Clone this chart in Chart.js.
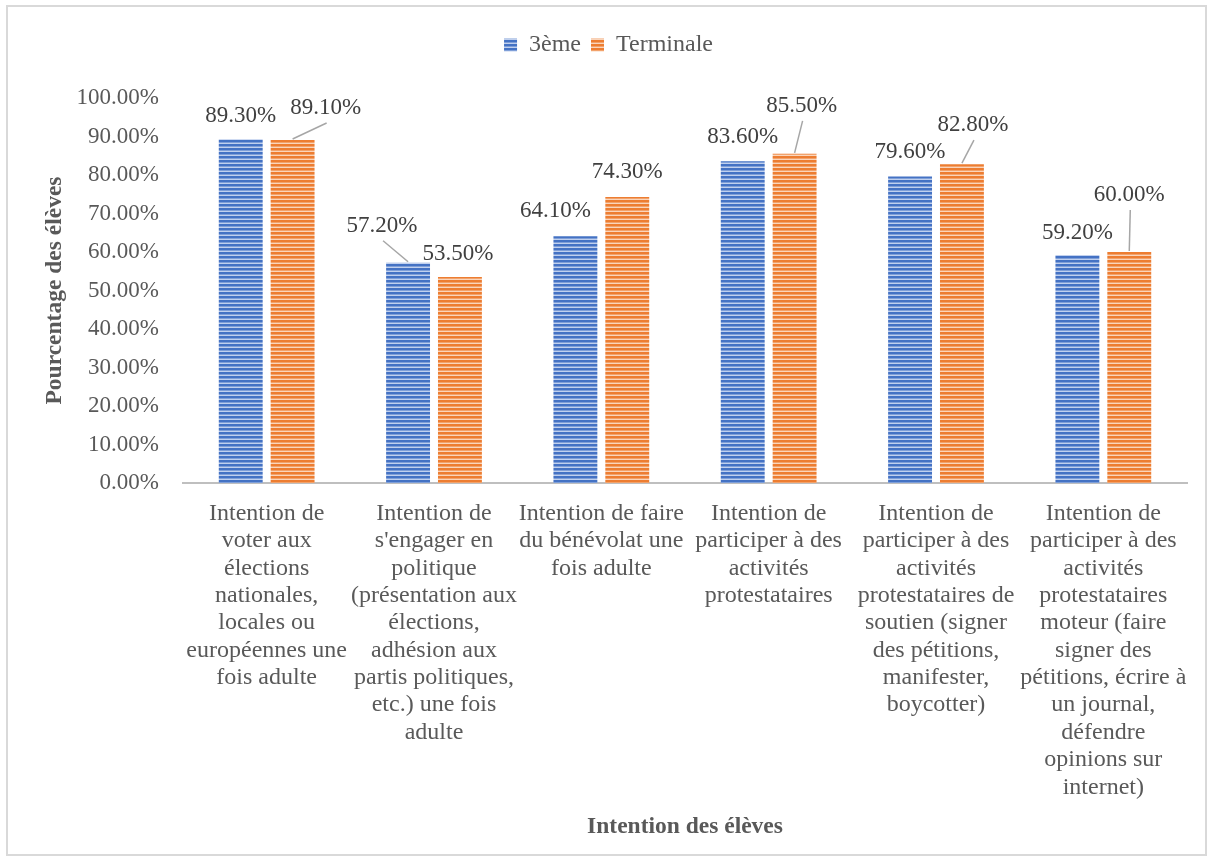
<!DOCTYPE html>
<html>
<head>
<meta charset="utf-8">
<script src="https://cdn.jsdelivr.net/npm/chart.js@4.4.1/dist/chart.umd.min.js"></script>
<style>
  html, body { margin: 0; padding: 0; background: #fff; }
  canvas { display: block; }
</style>
</head>
<body>
<canvas id="chart" width="1212" height="861"></canvas>
<script>
const categories = [
  ['Intention de', 'voter aux', 'élections', 'nationales,', 'locales ou', 'européennes une', 'fois adulte'],
  ['Intention de', "s'engager en", 'politique', '(présentation aux', 'élections,', 'adhésion aux', 'partis politiques,', 'etc.) une fois', 'adulte'],
  ['Intention de faire', 'du bénévolat une', 'fois adulte'],
  ['Intention de', 'participer à des', 'activités', 'protestataires'],
  ['Intention de', 'participer à des', 'activités', 'protestataires de', 'soutien (signer', 'des pétitions,', 'manifester,', 'boycotter)'],
  ['Intention de', 'participer à des', 'activités', 'protestataires', 'moteur (faire', 'signer des', 'pétitions, écrire à', 'un journal,', 'défendre', 'opinions sur', 'internet)'],
];
const troisieme = [89.3, 57.2, 64.1, 83.6, 79.6, 59.2];
const terminale = [89.1, 53.5, 74.3, 85.5, 82.8, 60.0];
const yTicks = [0, 10, 20, 30, 40, 50, 60, 70, 80, 90, 100];

// label placement relative to the top of each bar (px), and which ones get a leader line
const labelOffsets = [
  [[0, -23], [-26, -37], [-20, -25], [0, -24], [0, -25], [0, -22]],
  [[33, -32], [-2, -23], [0, -25], [7, -48], [11, -39], [0, -57]],
];
const leaders = [
  [false, true, false, false, false, false],
  [true, false, false, true, true, true],
];

const FONT = '"Liberation Serif", "Times New Roman", serif';
const textColor = '#595959';

function stripes(dark, mid, light) {
  const c = document.createElement('canvas');
  c.width = 4;
  c.height = 4;
  const ctx = c.getContext('2d');
  ctx.fillStyle = light;
  ctx.fillRect(0, 0, 4, 4);
  ctx.fillStyle = dark;
  ctx.fillRect(0, 0, 4, 2);
  ctx.fillStyle = mid;
  ctx.fillRect(0, 2, 4, 1);
  return ctx.createPattern(c, 'repeat');
}

const bluePattern = stripes('#4472c4', '#7f9fd8', '#c0d0ee');
const orangePattern = stripes('#ed7d31', '#f2a26b', '#fad5bb');

const frame = {
  id: 'frame',
  beforeInit(chart) {
    // extra room under the legend so the plot starts where the original does
    const fit = chart.legend.fit;
    chart.legend.fit = function () {
      fit.call(this);
      this.height += 31;
    };
  },
  beforeDraw(chart) {
    const ctx = chart.ctx;
    ctx.save();
    ctx.fillStyle = '#fff';
    ctx.fillRect(0, 0, chart.width, chart.height);
    ctx.strokeStyle = '#d9d9d9';
    ctx.lineWidth = 2;
    ctx.strokeRect(7, 6, 1199, 849);
    ctx.restore();
  },
};

const valueLabels = {
  id: 'valueLabels',
  afterDatasetsDraw(chart) {
    const ctx = chart.ctx;
    ctx.save();
    ctx.font = '23px ' + FONT;
    ctx.textAlign = 'center';
    ctx.textBaseline = 'middle';
    chart.data.datasets.forEach((ds, d) => {
      chart.getDatasetMeta(d).data.forEach((bar, i) => {
        const [dx, dy] = labelOffsets[d][i];
        const lx = bar.x + dx;
        const ly = bar.y + dy;
        if (leaders[d][i]) {
          ctx.strokeStyle = '#a6a6a6';
          ctx.lineWidth = 1.5;
          ctx.beginPath();
          ctx.moveTo(bar.x, bar.y - 1);
          ctx.lineTo(lx + 1, ly + 15);
          ctx.stroke();
        }
        ctx.fillStyle = '#404040';
        ctx.fillText(ds.data[i].toFixed(2) + '%', lx, ly);
      });
    });
    ctx.restore();
  },
};

new Chart(document.getElementById('chart'), {
  type: 'bar',
  data: {
    labels: categories,
    datasets: [
      { label: '3ème', data: troisieme, backgroundColor: bluePattern },
      { label: 'Terminale', data: terminale, backgroundColor: orangePattern },
    ],
  },
  options: {
    responsive: false,
    animation: false,
    categoryPercentage: 0.62,
    barPercentage: 0.846,
    layout: { padding: { top: 23, left: 30, right: 25, bottom: 10 } },
    plugins: {
      legend: {
        position: 'top',
        labels: {
          color: textColor,
          font: { family: FONT, size: 24 },
          boxWidth: 13,
          boxHeight: 13,
          padding: 10,
        },
      },
      tooltip: { enabled: false },
    },
    scales: {
      x: {
        grid: { display: false, drawTicks: false },
        border: { display: true, color: '#bfbfbf', width: 2 },
        ticks: {
          color: textColor,
          font: { family: FONT, size: 24, lineHeight: 1.14 },
          padding: 17,
          maxRotation: 0,
          minRotation: 0,
          autoSkip: false,
        },
        title: {
          display: true,
          text: 'Intention des élèves',
          color: textColor,
          font: { family: FONT, size: 23.5, weight: 'bold' },
          padding: { top: 10, bottom: 10 },
        },
        afterFit(scale) { scale.height = 861 - 483 - 10; },
      },
      y: {
        min: 0,
        max: 100,
        afterBuildTicks(scale) { scale.ticks = yTicks.map(v => ({ value: v })); },
        grid: { display: false, drawTicks: false },
        border: { display: false },
        ticks: {
          color: textColor,
          font: { family: FONT, size: 23 },
          padding: 24,
          callback: v => v.toFixed(2) + '%',
        },
        title: {
          display: true,
          text: 'Pourcentage des élèves',
          color: textColor,
          font: { family: FONT, size: 23.5, weight: 'bold' },
          padding: { top: 11, bottom: 0 },
        },
        afterFit(scale) { scale.width = 183 - 30; },
      },
    },
  },
  plugins: [frame, valueLabels],
});
</script>
</body>
</html>
